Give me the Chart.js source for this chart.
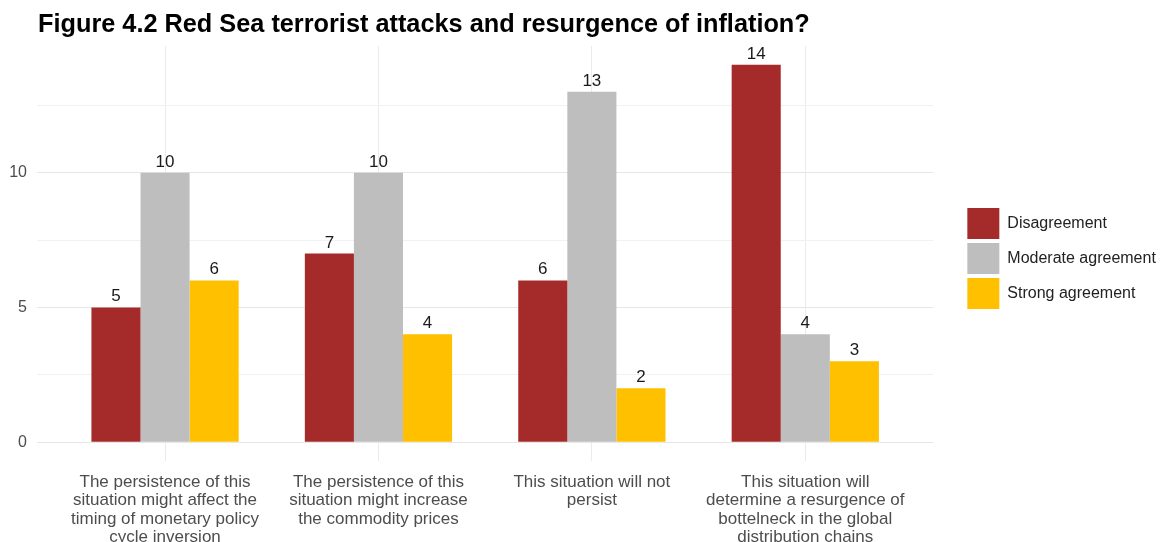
<!DOCTYPE html>
<html>
<head>
<meta charset="utf-8">
<script src="https://cdn.jsdelivr.net/npm/chart.js@4.4.1/dist/chart.umd.min.js"></script>
<style>
  html, body { margin: 0; padding: 0; background: #fff; }
  #wrap { position: relative; width: 1166px; height: 542px; }
  #wrap canvas { position: absolute; left: 0; top: 0; }
  #title {
    position: absolute; left: 38px; top: 11px; margin: 0;
    font: bold 25.3px "Liberation Sans", Arial, sans-serif; line-height: 25px;
    color: #000; white-space: nowrap;
  }
</style>
</head>
<body>
<div id="wrap">
  <canvas id="chart" width="1166" height="542"></canvas>
  <div id="title">Figure 4.2 Red Sea terrorist attacks and resurgence of inflation?</div>
</div>
<script>
// Survey statements (wrapped into lines for the x axis)
const categories = [
  ['The persistence of this', 'situation might affect the', 'timing of monetary policy', 'cycle inversion'],
  ['The persistence of this', 'situation might increase', 'the commodity prices'],
  ['This situation will not', 'persist'],
  ['This situation will', 'determine a resurgence of', 'bottelneck in the global', 'distribution chains']
];
const seriesNames = ['Disagreement', 'Moderate agreement', 'Strong agreement'];
const disagreement = [5, 7, 6, 14];
const moderateAgreement = [10, 10, 13, 4];
const strongAgreement = [6, 4, 2, 3];
const seriesColors = ['#A52A2A', '#BEBEBE', '#FFC000'];
const yTickValues = [0, 2.5, 5, 7.5, 10, 12.5];
const yTickLabels = ['0', '', '5', '', '10', ''];

const FONT = '"Liberation Sans", Arial, sans-serif';
Chart.defaults.font.family = FONT;

const seriesValues = [disagreement, moderateAgreement, strongAgreement];
const datasets = seriesNames.map((name, s) => ({
  label: name,
  data: seriesValues[s].map((v, i) => ({ x: i, y: v })),
  backgroundColor: seriesColors[s],
  borderWidth: 0,
  categoryPercentage: 0.69,
  barPercentage: 1
}));

// Count printed above each bar, clipped to the panel
const valueLabels = {
  id: 'valueLabels',
  afterDatasetsDraw(chart) {
    const { ctx, chartArea: a } = chart;
    ctx.save();
    ctx.beginPath();
    ctx.rect(a.left, a.top, a.right - a.left, a.bottom - a.top);
    ctx.clip();
    ctx.font = '17px ' + FONT;
    ctx.fillStyle = '#1a1a1a';
    ctx.textAlign = 'center';
    ctx.textBaseline = 'alphabetic';
    chart.data.datasets.forEach((ds, i) => {
      chart.getDatasetMeta(i).data.forEach((bar, j) => {
        ctx.fillText(String(ds.data[j].y), bar.x, bar.y - 6);
      });
    });
    ctx.restore();
  }
};

// Lower the legend block slightly within its column
const legendOffset = {
  id: 'legendOffset',
  afterLayout(chart) {
    const lg = chart.legend;
    if (lg) { lg.top += 5; lg.bottom += 5; }
  }
};

new Chart(document.getElementById('chart'), {
  type: 'bar',
  data: { datasets },
  plugins: [valueLabels, legendOffset],
  options: {
    responsive: false,
    animation: false,
    layout: { padding: { top: 46, left: 0, right: 10, bottom: 0 } },
    plugins: {
      title: { display: false },
      tooltip: { enabled: false },
      legend: {
        position: 'right',
        fullSize: false,
        align: 'center',
        labels: {
          boxWidth: 32,
          boxHeight: 31,
          padding: 4,
          color: '#222',
          font: { size: 16 }
        }
      }
    },
    scales: {
      x: {
        type: 'linear',
        min: -0.6,
        max: 3.6,
        offset: false,
        afterBuildTicks: s => { s.ticks = categories.map((_, i) => ({ value: i })); },
        afterFit: s => { s.height = 81; },
        grid: { color: '#EBEBEB', lineWidth: 1, drawTicks: false, offset: false },
        border: { display: false },
        ticks: {
          callback: v => categories[v],
          color: '#4D4D4D',
          font: { size: 17, lineHeight: 1.08 },
          padding: 12,
          maxRotation: 0,
          autoSkip: false
        }
      },
      y: {
        min: -0.7,
        max: 14.7,
        afterBuildTicks: s => { s.ticks = yTickValues.map(v => ({ value: v })); },
        afterFit: s => { s.width = 37; },
        grid: {
          color: c => (c.tick && c.tick.value % 5 === 0 ? '#E6E6E6' : '#F1F1F1'),
          lineWidth: 1,
          drawTicks: false
        },
        border: { display: false },
        ticks: {
          callback: (v, i) => yTickLabels[i],
          color: '#4D4D4D',
          font: { size: 16 },
          padding: 10
        }
      },
      gutter: {
        position: 'right',
        afterFit: s => { s.width = 30; },
        grid: { display: false },
        border: { display: false },
        ticks: { display: false }
      }
    }
  }
});
</script>
</body>
</html>
